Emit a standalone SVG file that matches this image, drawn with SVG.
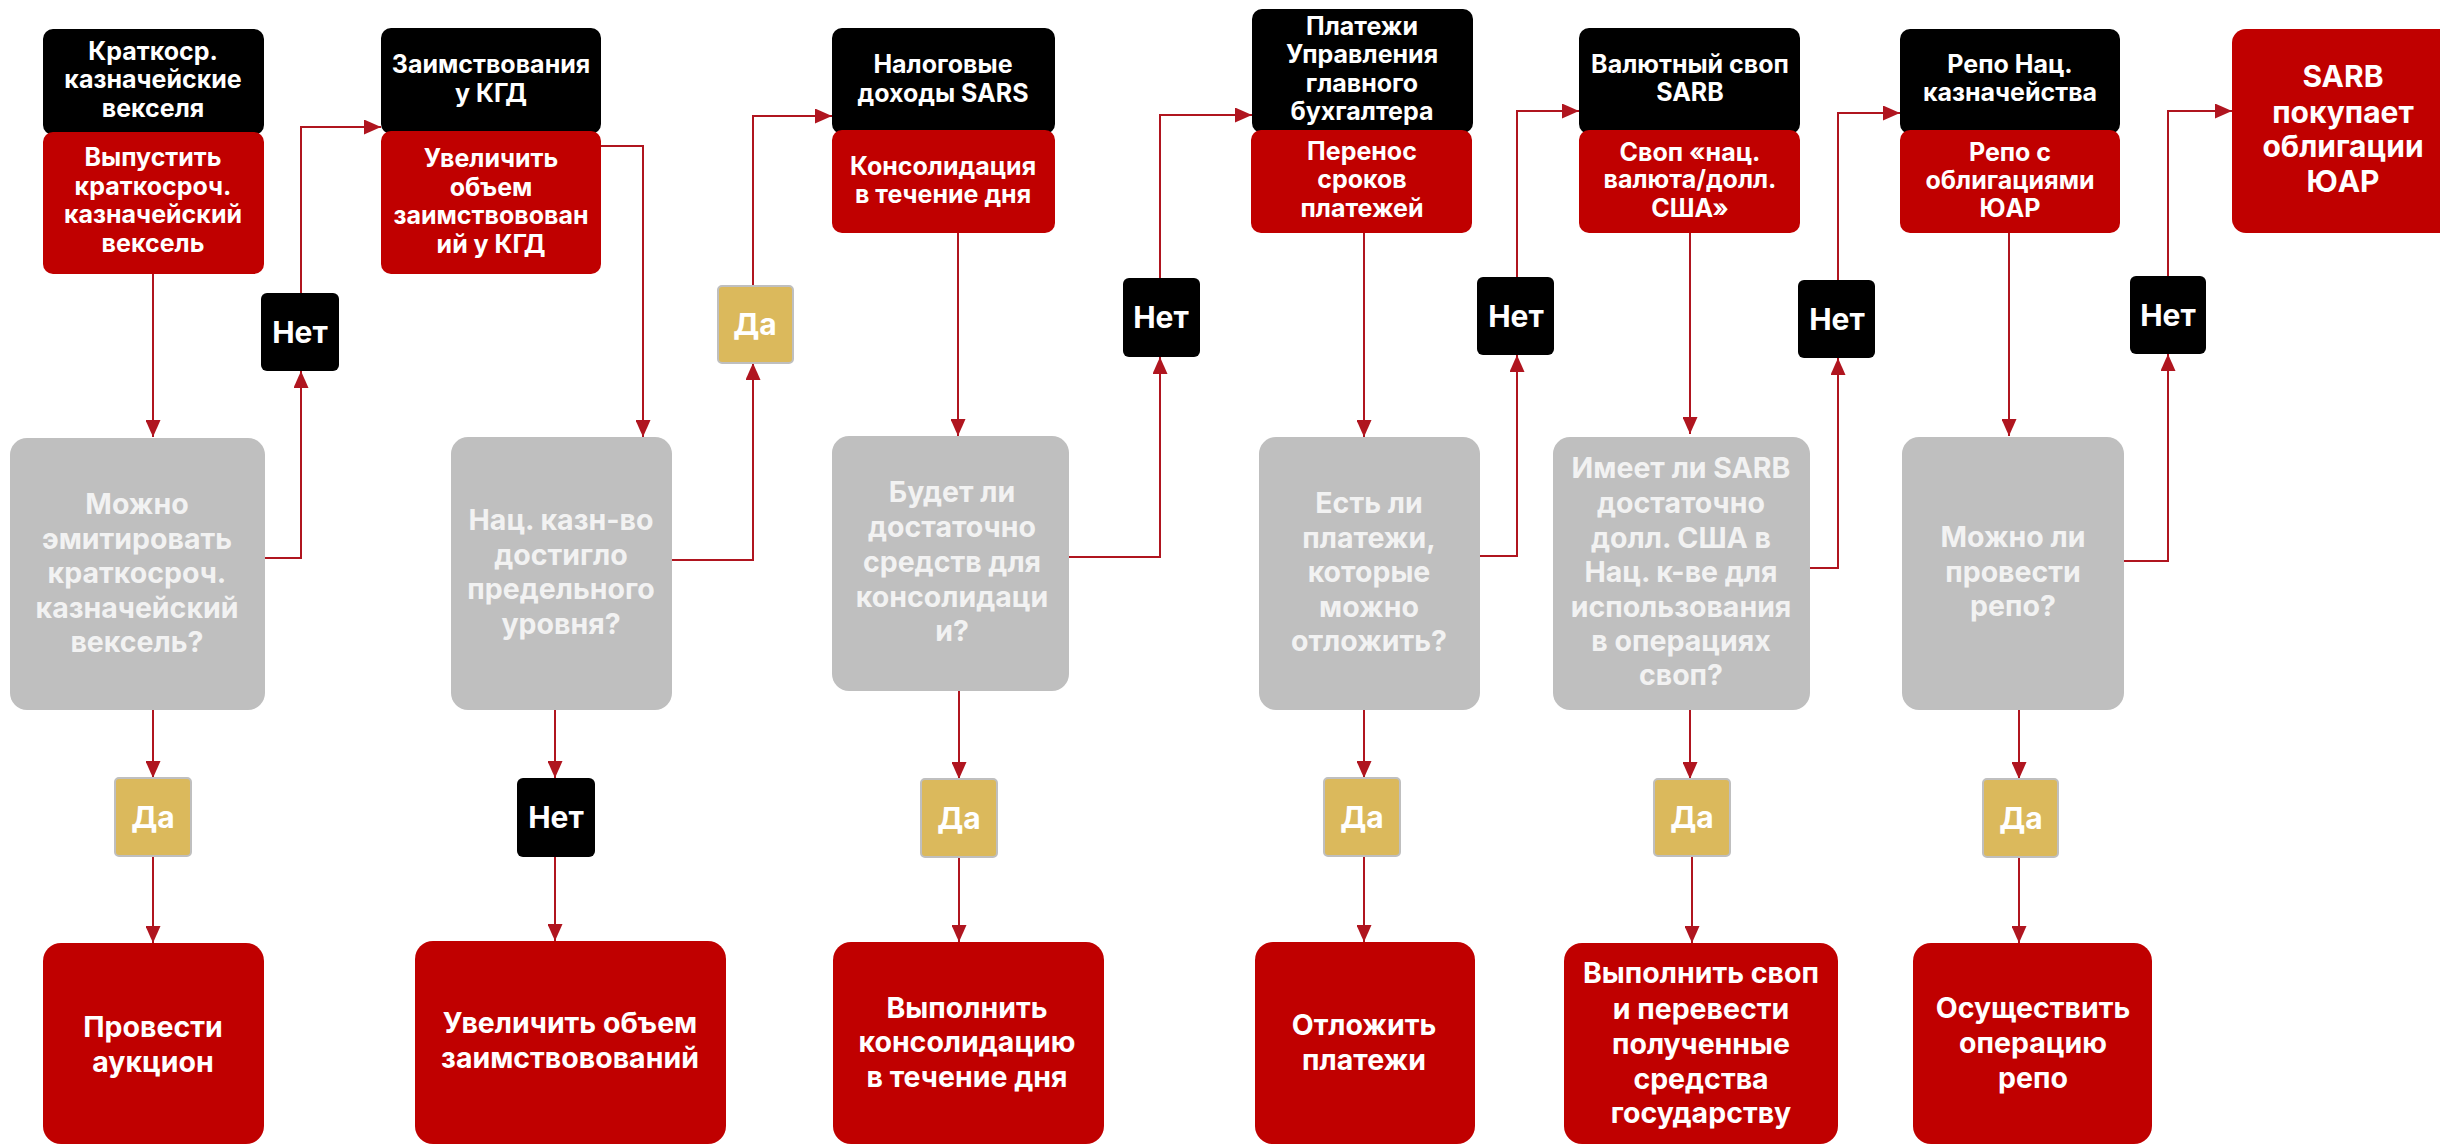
<svg xmlns="http://www.w3.org/2000/svg" width="2440" height="1145" viewBox="0 0 2440 1145">
<defs>
<marker id="ah" viewBox="0 0 17 15" refX="17" refY="7.5" markerWidth="17" markerHeight="15" markerUnits="userSpaceOnUse" orient="auto">
<path d="M0,0 L17,7.5 L0,15 Z" fill="#b0151f"/>
</marker>
<style>
text{font-family:Inter,"Noto Sans","Liberation Sans",sans-serif;font-weight:700;text-anchor:middle;fill:#ffffff}
.hd{font-size:25px}
.q{font-size:28.5px;fill:#f2f2f2}
.f{font-size:28.5px}
.lb{font-size:30px}
.blk{fill:#000000}
.red{fill:#c00000}
.gry{fill:#bfbfbf}
.gold{fill:#dbb95c;stroke:#bfbfbf;stroke-width:2}
.nb{fill:#000000}
.c{fill:none;stroke:#b0151f;stroke-width:2;marker-end:url(#ah)}
</style>
</defs>
<rect width="2440" height="1145" fill="#ffffff"/>

<g id="connectors">
<!-- column 1 -->
<path class="c" d="M153,274 V437"/>
<path class="c" d="M153,710 V778"/>
<path class="c" d="M153,856 V943"/>
<path class="c" d="M265,558 H301 V371"/>
<path class="c" d="M301,293 V127 H381"/>
<!-- column 2 -->
<path class="c" d="M601,146 H643 V437"/>
<path class="c" d="M555,710 V778"/>
<path class="c" d="M555,857 V941"/>
<path class="c" d="M672,560 H753 V363"/>
<path class="c" d="M753,286 V116 H832"/>
<!-- column 3 -->
<path class="c" d="M958,233 V436"/>
<path class="c" d="M959,691 V779"/>
<path class="c" d="M959,857 V942"/>
<path class="c" d="M1069,557 H1160 V357"/>
<path class="c" d="M1160,278 V115 H1252"/>
<!-- column 4 -->
<path class="c" d="M1364,233 V437"/>
<path class="c" d="M1364,710 V778"/>
<path class="c" d="M1364,856 V942"/>
<path class="c" d="M1480,556 H1517 V355"/>
<path class="c" d="M1517,277 V111 H1579"/>
<!-- column 5 -->
<path class="c" d="M1690,233 V434"/>
<path class="c" d="M1690,710 V779"/>
<path class="c" d="M1692,856 V943"/>
<path class="c" d="M1808,568 H1838 V358"/>
<path class="c" d="M1838,280 V113 H1900"/>
<!-- column 6 -->
<path class="c" d="M2009,233 V436"/>
<path class="c" d="M2019,710 V779"/>
<path class="c" d="M2019,857 V943"/>
<path class="c" d="M2124,561 H2168 V354"/>
<path class="c" d="M2168,276 V111 H2232"/>
</g>

<!-- Column 1 -->
<g id="h1">
<rect class="blk" x="43" y="29" width="221" height="106" rx="10"/>
<text class="hd"><tspan x="153" y="60">Краткоср.</tspan><tspan x="153" y="88">казначейские</tspan><tspan x="153" y="117">векселя</tspan></text>
</g>
<g id="a1">
<rect class="red" x="43" y="132" width="221" height="142" rx="10"/>
<text class="hd"><tspan x="153" y="166">Выпустить</tspan><tspan x="153" y="195">краткосроч.</tspan><tspan x="153" y="223">казначейский</tspan><tspan x="153" y="252">вексель</tspan></text>
</g>
<g id="q1">
<rect class="gry" x="10" y="438" width="255" height="272" rx="17"/>
<text class="q"><tspan x="137" y="514">Можно</tspan><tspan x="137" y="549">эмитировать</tspan><tspan x="137" y="583">краткосроч.</tspan><tspan x="137" y="618">казначейский</tspan><tspan x="137" y="652">вексель?</tspan></text>
</g>
<g id="n1">
<rect class="nb" x="261" y="293" width="78" height="78" rx="6"/>
<text class="lb" x="300" y="343">Нет</text>
</g>
<g id="y1">
<rect class="gold" x="115" y="778" width="76" height="78" rx="4"/>
<text class="lb" x="153" y="828">Да</text>
</g>
<g id="f1">
<rect class="red" x="43" y="943" width="221" height="201" rx="18"/>
<text class="f"><tspan x="153" y="1037">Провести</tspan><tspan x="153" y="1072">аукцион</tspan></text>
</g>

<!-- Column 2 -->
<g id="h2">
<rect class="blk" x="381" y="28" width="220" height="106" rx="10"/>
<text class="hd"><tspan x="491" y="73">Заимствования</tspan><tspan x="491" y="102">у КГД</tspan></text>
</g>
<g id="a2">
<rect class="red" x="381" y="131" width="220" height="143" rx="10"/>
<text class="hd"><tspan x="491" y="167">Увеличить</tspan><tspan x="491" y="196">объем</tspan><tspan x="491" y="224">заимствовован</tspan><tspan x="491" y="253">ий у КГД</tspan></text>
</g>
<g id="q2">
<rect class="gry" x="451" y="437" width="221" height="273" rx="17"/>
<text class="q"><tspan x="561" y="530">Нац. казн-во</tspan><tspan x="561" y="565">достигло</tspan><tspan x="561" y="599">предельного</tspan><tspan x="561" y="634">уровня?</tspan></text>
</g>
<g id="y2">
<rect class="gold" x="718" y="286" width="75" height="77" rx="4"/>
<text class="lb" x="755" y="335">Да</text>
</g>
<g id="n2">
<rect class="nb" x="517" y="778" width="78" height="79" rx="6"/>
<text class="lb" x="556" y="828">Нет</text>
</g>
<g id="f2">
<rect class="red" x="415" y="941" width="311" height="203" rx="18"/>
<text class="f"><tspan x="570" y="1033">Увеличить объем</tspan><tspan x="570" y="1068">заимствовований</tspan></text>
</g>

<!-- Column 3 -->
<g id="h3">
<rect class="blk" x="832" y="28" width="223" height="106" rx="10"/>
<text class="hd"><tspan x="943" y="73">Налоговые</tspan><tspan x="943" y="102">доходы SARS</tspan></text>
</g>
<g id="a3">
<rect class="red" x="832" y="130" width="223" height="103" rx="10"/>
<text class="hd"><tspan x="943" y="175">Консолидация</tspan><tspan x="943" y="203">в течение дня</tspan></text>
</g>
<g id="q3">
<rect class="gry" x="832" y="436" width="237" height="255" rx="17"/>
<text class="q"><tspan x="952" y="502">Будет ли</tspan><tspan x="952" y="537">достаточно</tspan><tspan x="952" y="572">средств для</tspan><tspan x="952" y="607">консолидаци</tspan><tspan x="952" y="641">и?</tspan></text>
</g>
<g id="n3">
<rect class="nb" x="1123" y="278" width="77" height="79" rx="6"/>
<text class="lb" x="1161" y="328">Нет</text>
</g>
<g id="y3">
<rect class="gold" x="921" y="779" width="76" height="78" rx="4"/>
<text class="lb" x="959" y="829">Да</text>
</g>
<g id="f3">
<rect class="red" x="833" y="942" width="271" height="202" rx="18"/>
<text class="f"><tspan x="967" y="1018">Выполнить</tspan><tspan x="967" y="1052">консолидацию</tspan><tspan x="967" y="1087">в течение дня</tspan></text>
</g>

<!-- Column 4 -->
<g id="h4">
<rect class="blk" x="1252" y="9" width="221" height="124" rx="10"/>
<text class="hd"><tspan x="1362" y="35">Платежи</tspan><tspan x="1362" y="63">Управления</tspan><tspan x="1362" y="92">главного</tspan><tspan x="1362" y="120">бухгалтера</tspan></text>
</g>
<g id="a4">
<rect class="red" x="1251" y="130" width="221" height="103" rx="10"/>
<text class="hd"><tspan x="1362" y="160">Перенос</tspan><tspan x="1362" y="188">сроков</tspan><tspan x="1362" y="217">платежей</tspan></text>
</g>
<g id="q4">
<rect class="gry" x="1259" y="437" width="221" height="273" rx="17"/>
<text class="q"><tspan x="1369" y="513">Есть ли</tspan><tspan x="1369" y="548">платежи,</tspan><tspan x="1369" y="582">которые</tspan><tspan x="1369" y="617">можно</tspan><tspan x="1369" y="651">отложить?</tspan></text>
</g>
<g id="n4">
<rect class="nb" x="1477" y="277" width="77" height="78" rx="6"/>
<text class="lb" x="1516" y="327">Нет</text>
</g>
<g id="y4">
<rect class="gold" x="1324" y="778" width="76" height="78" rx="4"/>
<text class="lb" x="1362" y="828">Да</text>
</g>
<g id="f4">
<rect class="red" x="1255" y="942" width="220" height="202" rx="18"/>
<text class="f"><tspan x="1364" y="1035">Отложить</tspan><tspan x="1364" y="1070">платежи</tspan></text>
</g>

<!-- Column 5 -->
<g id="h5">
<rect class="blk" x="1579" y="28" width="221" height="106" rx="10"/>
<text class="hd"><tspan x="1690" y="73">Валютный своп</tspan><tspan x="1690" y="101">SARB</tspan></text>
</g>
<g id="a5">
<rect class="red" x="1579" y="130" width="221" height="103" rx="10"/>
<text class="hd"><tspan x="1690" y="161">Своп «нац.</tspan><tspan x="1690" y="188">валюта/долл.</tspan><tspan x="1690" y="217">США»</tspan></text>
</g>
<g id="q5">
<rect class="gry" x="1553" y="437" width="257" height="273" rx="17"/>
<text class="q"><tspan x="1681" y="478">Имеет ли SARB</tspan><tspan x="1681" y="513">достаточно</tspan><tspan x="1681" y="548">долл. США в</tspan><tspan x="1681" y="582">Нац. к-ве для</tspan><tspan x="1681" y="617">использования</tspan><tspan x="1681" y="651">в операциях</tspan><tspan x="1681" y="685">своп?</tspan></text>
</g>
<g id="n5">
<rect class="nb" x="1798" y="280" width="77" height="78" rx="6"/>
<text class="lb" x="1837" y="330">Нет</text>
</g>
<g id="y5">
<rect class="gold" x="1654" y="779" width="76" height="77" rx="4"/>
<text class="lb" x="1692" y="828">Да</text>
</g>
<g id="f5">
<rect class="red" x="1564" y="943" width="274" height="201" rx="18"/>
<text class="f"><tspan x="1701" y="983">Выполнить своп</tspan><tspan x="1701" y="1019">и перевести</tspan><tspan x="1701" y="1054">полученные</tspan><tspan x="1701" y="1089">средства</tspan><tspan x="1701" y="1123">государству</tspan></text>
</g>

<!-- Column 6 -->
<g id="h6">
<rect class="blk" x="1900" y="29" width="220" height="105" rx="10"/>
<text class="hd"><tspan x="2010" y="73">Репо Нац.</tspan><tspan x="2010" y="101">казначейства</tspan></text>
</g>
<g id="a6">
<rect class="red" x="1900" y="130" width="220" height="103" rx="10"/>
<text class="hd"><tspan x="2010" y="161">Репо с</tspan><tspan x="2010" y="189">облигациями</tspan><tspan x="2010" y="217">ЮАР</tspan></text>
</g>
<g id="q6">
<rect class="gry" x="1902" y="437" width="222" height="273" rx="17"/>
<text class="q"><tspan x="2013" y="547">Можно ли</tspan><tspan x="2013" y="582">провести</tspan><tspan x="2013" y="616">репо?</tspan></text>
</g>
<g id="n6">
<rect class="nb" x="2130" y="276" width="76" height="78" rx="6"/>
<text class="lb" x="2168" y="326">Нет</text>
</g>
<g id="y6">
<rect class="gold" x="1983" y="779" width="75" height="78" rx="4"/>
<text class="lb" x="2021" y="829">Да</text>
</g>
<g id="f6">
<rect class="red" x="1913" y="943" width="239" height="201" rx="18"/>
<text class="f"><tspan x="2033" y="1018">Осуществить</tspan><tspan x="2033" y="1053">операцию</tspan><tspan x="2033" y="1088">репо</tspan></text>
</g>

<!-- SARB -->
<g id="sarb">
<rect class="red" x="2232" y="29" width="240" height="204" rx="14"/>
<text class="f" style="font-size:30px"><tspan x="2343" y="87">SARB</tspan><tspan x="2343" y="123">покупает</tspan><tspan x="2343" y="157">облигации</tspan><tspan x="2343" y="192">ЮАР</tspan></text>
</g>
</svg>
